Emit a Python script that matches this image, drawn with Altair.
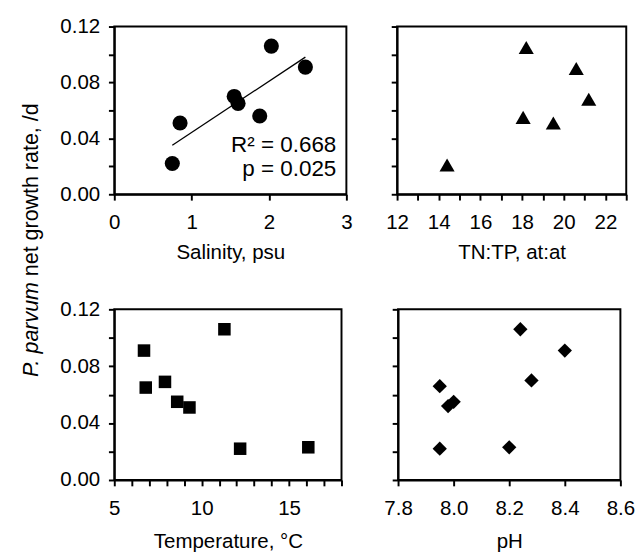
import altair as alt
import pandas as pd

FONT = "Liberation Sans"
FS = 21

# ---- data ----
sal_x = [0.75, 0.85, 1.55, 1.60, 1.88, 2.03, 2.47]
sal_y = [0.022, 0.051, 0.070, 0.065, 0.056, 0.106, 0.091]

tntp_x = [14.4, 18.2, 18.05, 19.5, 20.6, 21.2]
tntp_y = [0.021, 0.105, 0.055, 0.051, 0.090, 0.068]

temp_x = [6.7, 6.8, 7.9, 8.6, 9.3, 11.3, 12.2, 16.1]
temp_y = [0.091, 0.065, 0.069, 0.055, 0.051, 0.106, 0.022, 0.023]

ph_x = [7.95, 7.95, 7.98, 8.00, 8.20, 8.24, 8.28, 8.40]
ph_y = [0.066, 0.022, 0.052, 0.055, 0.023, 0.106, 0.070, 0.091]

ann_x = [2.87, 2.87]
ann_y = [0.030, 0.0133]
ann_text = ["R\u00b2 = 0.668", "p = 0.025"]

y_ticks = [0, 0.02, 0.04, 0.06, 0.08, 0.10, 0.12]
sal_ticks = [0, 1, 2, 3]
tntp_ticks = list(range(12, 24))
temp_ticks = list(range(5, 19))
ph_ticks = [7.8, 8.0, 8.2, 8.4, 8.6]

title_italic = "P. parvum"
title_rest = "net growth rate, /d"

TICK = 6


def y_axis(show_labels):
    kw = dict(values=y_ticks, title=None, ticks=True, tickSize=TICK, tickWidth=2,
              tickColor="black", labelPadding=9,
              grid=False, labelOverlap=False, labelFlush=False)
    if show_labels:
        kw["labelExpr"] = "round(datum.value*100) % 4 == 0 ? format(datum.value, '.2f') : ''"
    else:
        kw["labels"] = False
    return alt.Axis(**kw)


def x_axis(title, values, lab_pad, title_pad, fmt=None, label_expr=None):
    kw = dict(values=values, title=title, ticks=True, tickSize=TICK, tickWidth=2,
              tickColor="black", labelPadding=lab_pad,
              titlePadding=title_pad, grid=False, labelOverlap=False, labelFlush=False)
    if fmt:
        kw["format"] = fmt
    if label_expr:
        kw["labelExpr"] = label_expr
    return alt.Axis(**kw)


def panel(x, y, shape, size, xdom, xaxis, yaxis, w, h, extra=()):
    xs = alt.Scale(domain=xdom, nice=False, zero=False)
    ys = alt.Scale(domain=[0, 0.12], nice=False)
    X = alt.X("x:Q", scale=xs, axis=xaxis)
    Y = alt.Y("y:Q", scale=ys, axis=yaxis)
    pts = alt.Chart(pd.DataFrame({"x": x, "y": y})).mark_point(
        filled=True, shape=shape, size=size, color="black", opacity=1).encode(x=X, y=Y)
    layers = [e(X, Y) for e in extra] + [pts]
    return alt.layer(*layers).properties(width=w, height=h)


# Panel 1 extras: regression line and annotation
sal_df = pd.DataFrame({"x": sal_x, "y": sal_y})
ann_df = pd.DataFrame({"x": ann_x, "y": ann_y, "t": ann_text})


def reg_line(X, Y):
    return alt.Chart(sal_df).transform_regression("x", "y").mark_line(
        color="black", strokeWidth=1.3).encode(x=X, y=Y)


def ann(X, Y):
    return alt.Chart(ann_df).mark_text(align="right", baseline="alphabetic", font=FONT,
                                       fontSize=23, color="black").encode(x=X, y=Y, text="t:N")


p1 = panel(sal_x, sal_y, "circle", 240, [0, 3],
           x_axis("Salinity, psu", sal_ticks, 12, 10, fmt="d"), y_axis(True),
           238, 172, extra=(reg_line, ann))

p2 = panel(tntp_x, tntp_y, "triangle-up", 240, [12, 23],
           x_axis("TN:TP, at:at", tntp_ticks, 12, 10,
                  label_expr="datum.value % 2 == 0 && datum.value <= 22 ? datum.label : ''"),
           y_axis(False), 235, 172)

p3 = panel(temp_x, temp_y, "square", 165, [5, 18],
           x_axis("Temperature, \u00b0C", temp_ticks, 12, 13,
                  label_expr="datum.value % 5 == 0 ? datum.label : ''"),
           y_axis(True), 233, 175)

p4 = panel(ph_x, ph_y, "diamond", 215, [7.8, 8.6],
           x_axis("pH", ph_ticks, 12, 13, fmt=".1f"),
           y_axis(False), 228, 175)

# Shared y title (partly italic)
t1 = alt.Chart(pd.DataFrame({"t": [title_italic]})).mark_text(
    angle=270, align="right", baseline="middle", font=FONT, fontSize=22,
    fontStyle="italic", color="black").encode(
    x=alt.value(19), y=alt.value(262), text="t:N")
t2 = alt.Chart(pd.DataFrame({"t": [title_rest]})).mark_text(
    angle=270, align="left", baseline="middle", font=FONT, fontSize=22,
    color="black").encode(
    x=alt.value(19), y=alt.value(256), text="t:N")
title_chart = alt.layer(t1, t2).properties(
    width=24, height=470, view=alt.ViewBackground(strokeOpacity=0))

row1 = alt.hconcat(p1, p2, spacing=32)
row2 = alt.hconcat(p3, p4, spacing=40)
grid = alt.vconcat(row1, row2, spacing=35)

chart = alt.hconcat(title_chart, grid, spacing=17).properties(
    padding={"left": 5, "top": 0, "right": 0, "bottom": 0}
).configure_view(
    stroke="black", strokeWidth=2
).configure_axis(
    labelFont=FONT, labelFontSize=FS, titleFont=FONT, titleFontSize=FS,
    titleFontWeight="normal", labelColor="black", titleColor="black",
    domainColor="black", domainWidth=2
)

chart.save("out.html", embed_options={"renderer": "svg", "actions": False})
